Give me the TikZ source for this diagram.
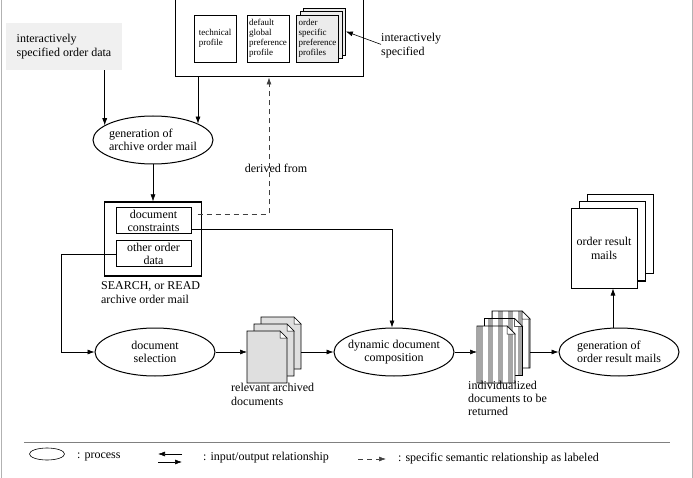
\documentclass[tikz,border=0pt]{standalone}
\usepackage{fontspec}
\setmainfont{Liberation Serif}
\usetikzlibrary{arrows.meta,shapes.geometric,shadows,patterns.meta,calc,positioning}

\begin{document}
\begin{tikzpicture}[x=1pt,y=-1pt,
    every node/.style={font=\fontsize{12}{13.5}\selectfont},
    proc/.style={ellipse,draw,line width=1pt,minimum width=120pt,minimum height=48pt,inner xsep=-5pt,inner ysep=0pt,align=center},
    box/.style={draw,line width=1pt,inner sep=0pt},
    prf/.style={draw,line width=.8pt,minimum width=42pt,minimum height=47pt,inner sep=1pt,align=left,font=\fontsize{9}{10}\selectfont},
    flow/.style={-{Latex[length=7pt,width=5pt]},line width=.6pt},
    derived/.style={-{Latex[length=7pt,width=5pt]},line width=.6pt,black!75,dash pattern=on 5pt off 4pt},
    relpage/.style={draw,line width=.7pt,fill=gray!25},
    indpage/.style={draw,line width=.7pt,preaction={fill=white},pattern={Lines[angle=90,distance=10pt,line width=5pt]},pattern color=gray!70},
    lbl/.style={anchor=north west,inner sep=0pt,align=left}]
  \useasboundingbox (0,0) rectangle (693,478);
  \clip (0,0) rectangle (693,478);
  \draw[gray!60] (1,0) -- (1,478) (692,0) -- (692,478);

  \node[fill=gray!12,minimum width=116pt,minimum height=47pt,align=left] (spec) at (64,46.5) {interactively\\specified order data};
  \node[box,minimum width=188pt,minimum height=87pt] (prof) at (269,33.5) {};
  \node[prf] (tech) at (215,38.5) {technical\\profile};
  \node[prf] (dflt) at (268,38.5) {default\\global\\preference\\profile};
  \node[prf,fill=gray!15,copy shadow={shadow xshift=7pt,shadow yshift=7pt},copy shadow={shadow xshift=3.5pt,shadow yshift=3.5pt}] (ospec) at (317.5,38.5) {order\\specific\\preference\\profiles};
  \node[lbl] (ispec) at (381,33) {interactively\\specified};
  \draw[flow] ([yshift=1pt]ispec.west) -- ([xshift=7pt,yshift=7pt]ospec.east);

  \node[proc,align=left] (genarch) at (153,140) {generation of\\archive order mail};
  \draw[flow] (genarch.163 |- spec.south) -- (genarch.163);
  \draw[flow] (genarch.20 |- prof.south) -- (genarch.20);

  \node[box,line width=1.2pt,minimum width=97pt,minimum height=74pt] (search) at (153,239) {};
  \node[box,minimum width=75pt,minimum height=26pt,align=center,font=\fontsize{12}{12.5}\selectfont] (cons) at (153.5,221) {document\\constraints};
  \node[box,minimum width=75pt,minimum height=26pt,align=center,font=\fontsize{12}{12.5}\selectfont] (other) at (153.5,254) {other order\\data};
  \node[lbl] (searchlbl) at ([xshift=-3pt,yshift=-5pt]search.south west) {SEARCH, or READ\\archive order mail};
  \draw[flow] (genarch.south) -- (search.north);

  \draw[derived] ([xshift=6pt,yshift=7pt]cons.east) -| (prof.south);
  \node (derivlbl) at (276,168) {derived from};

  \node[proc] (docsel) at (155,352) {document\\selection};
  \node[proc] (dyn) at (394,352) {dynamic document\\composition};
  \node[proc,align=left] (resgen) at (619,352) {generation of\\order result mails};

  \draw[flow] ([yshift=-8pt]cons.east) -| ([xshift=-2pt]dyn.north);
  \draw[flow] (other.west) -- ++(-54,0) |- (docsel.west);

  \foreach \i in {2,1,0}{
    \draw[relpage] ({247+7*\i},{331-7*\i}) -- ++(33,0) -- ++(7,7) -- ++(0,45) -- ++(-40,0) -- cycle;
    \filldraw[fill=white,line width=.5pt] ({280+7*\i},{331-7*\i}) -- ++(0,7) -- ++(7,0) -- cycle;
  }
  \coordinate (relin) at (247,352);
  \coordinate (relout) at (301,352);
  \node[lbl] (rellbl) at (231,383) {relevant archived\\documents};

  \foreach \i in {2,1,0}{
    \draw[indpage] ({477+7.5*\i},{326-7.5*\i}) -- ++(30,0) -- ++(8,8) -- ++(0,49) -- ++(-38,0) -- cycle;
    \filldraw[fill=white,line width=.5pt] ({507+7.5*\i},{326-7.5*\i}) -- ++(0,8) -- ++(8,0) -- cycle;
  }
  \coordinate (indin) at (477,352);
  \coordinate (indout) at (530,352);
  \node[lbl,font=\fontsize{12}{13}\selectfont] (indlbl) at (468,381) {individualized\\documents to be\\returned};

  \node[box,fill=white,minimum width=66pt,minimum height=79pt,align=center,copy shadow={shadow xshift=16pt,shadow yshift=14pt},copy shadow={shadow xshift=8pt,shadow yshift=7pt}] (mails) at (604,248.5) {order result\\mails};

  \draw[flow] (docsel.east) -- (relin);
  \draw[flow] (relout) -- (dyn.west);
  \draw[flow] (dyn.east) -- (indin);
  \draw[flow] (indout) -- (resgen.west);
  \draw[flow] ([xshift=-6pt]resgen.north) -- ([xshift=-6pt]resgen.north |- mails.south);

  \draw[gray,line width=.8pt] (24,442) -- (670,442);
  \node[ellipse,draw,line width=.6pt,minimum width=35pt,minimum height=12pt,inner sep=0pt] (lgproc) at (47,454) {};
  \node[anchor=west,inner sep=0pt] (lgproctxt) at (77,457) {: process};
  \coordinate (ioa) at (158,454);
  \coordinate (iob) at (182,454);
  \coordinate (ioc) at (158,462);
  \coordinate (iod) at (182,462);
  \draw[flow] (iob) -- (ioa);
  \draw[flow] (ioc) -- (iod);
  \node[anchor=west,inner sep=0pt] (lgiotxt) at (203,458) {: input/output relationship};
  \coordinate (sema) at (358,459);
  \coordinate (semb) at (386,459);
  \draw[derived] (sema) -- (semb);
  \node[anchor=west,inner sep=0pt] (lgsemtxt) at (398,459) {: specific semantic relationship as labeled};
\end{tikzpicture}
\end{document}
